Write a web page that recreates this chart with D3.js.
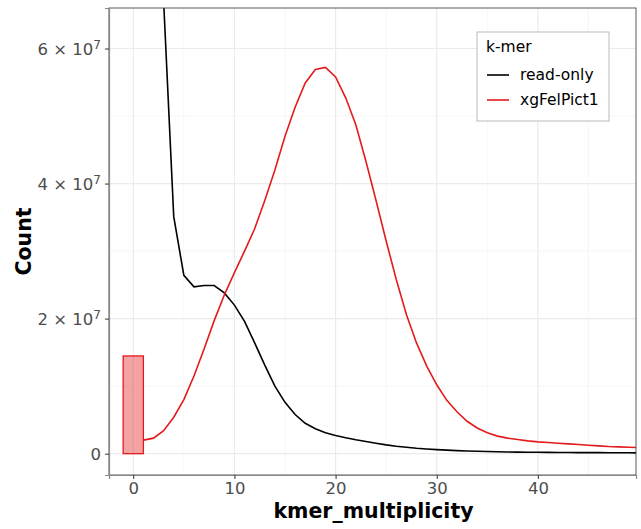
<!DOCTYPE html>
<html>
<head>
<meta charset="utf-8">
<script src="https://cdn.jsdelivr.net/npm/d3@7"></script>
<style>
  body { margin: 0; background: #fff; font-family: "DejaVu Sans", sans-serif; }
</style>
</head>
<body>
<div class="wrapper"></div>
<script>
const multiplicity = d3.range(1, 51)

const readOnly = [
  3.2e8, 1.5e8, 6.7e7, 3.51e7, 2.64e7, 2.47e7, 2.49e7, 2.49e7, 2.38e7, 2.2e7,
  1.96e7, 1.64e7, 1.31e7, 1.0e7, 0.76e7, 0.58e7, 0.45e7, 0.37e7, 0.31e7, 0.27e7,
  0.235e7, 0.205e7, 0.18e7, 0.155e7, 0.13e7, 0.11e7, 0.095e7, 0.08e7, 0.07e7, 0.06e7,
  0.052e7, 0.045e7, 0.04e7, 0.035e7, 0.031e7, 0.028e7, 0.025e7, 0.023e7, 0.021e7, 0.02e7,
  0.019e7, 0.018e7, 0.017e7, 0.016e7, 0.015e7, 0.015e7, 0.014e7, 0.013e7, 0.013e7, 0.012e7
]

const assembly = [
  0.2e7, 0.23e7, 0.34e7, 0.54e7, 0.8e7, 1.15e7, 1.55e7, 1.97e7, 2.35e7, 2.68e7,
  3.0e7, 3.33e7, 3.75e7, 4.2e7, 4.7e7, 5.13e7, 5.49e7, 5.69e7, 5.72e7, 5.58e7,
  5.27e7, 4.87e7, 4.33e7, 3.75e7, 3.15e7, 2.58e7, 2.06e7, 1.64e7, 1.3e7, 1.02e7,
  0.79e7, 0.62e7, 0.48e7, 0.38e7, 0.31e7, 0.26e7, 0.23e7, 0.21e7, 0.19e7, 0.175e7,
  0.165e7, 0.155e7, 0.145e7, 0.135e7, 0.125e7, 0.115e7, 0.105e7, 0.1e7, 0.095e7, 0.09e7
]

// k-mers found only in the assembly (multiplicity 0)
const zeroBar = { x0: -1, x1: 1, value: 1.447e7 }

const series = [
  { name: 'read-only', color: '#000000', values: readOnly },
  { name: 'xgFelPict1', color: '#e41a1c', values: assembly },
]

const xTicks = [0, 10, 20, 30, 40]
const xMinor = [5, 15, 25, 35, 45]
const yTicks = [0, 2e7, 4e7, 6e7]
const yMinor = [1e7, 3e7, 5e7]

const width = 641, height = 529
const margin = { top: 8, right: 5, bottom: 54, left: 109 }
const pw = width - margin.left - margin.right
const ph = height - margin.top - margin.bottom

const x = d3.scaleLinear().domain([-2.4, 49.7]).range([0, pw])
const y = d3.scaleLinear().domain([-0.316e7, 6.6e7]).range([ph, 0])

const svg = d3.select('.wrapper')
  .append('svg')
  .attr('width', width)
  .attr('height', height)

const g = svg.append('g')
  .attr('transform', `translate(${margin.left}, ${margin.top})`)

g.append('defs').append('clipPath')
  .attr('id', 'panel')
  .append('rect')
  .attr('width', pw)
  .attr('height', ph)

// grid
g.selectAll('.xminor').data(xMinor).enter().append('line')
  .attr('x1', d => x(d)).attr('x2', d => x(d))
  .attr('y1', 0).attr('y2', ph)
  .attr('stroke', '#f2f2f2').attr('stroke-width', 0.6)
g.selectAll('.yminor').data(yMinor).enter().append('line')
  .attr('y1', d => y(d)).attr('y2', d => y(d))
  .attr('x1', 0).attr('x2', pw)
  .attr('stroke', '#f2f2f2').attr('stroke-width', 0.6)
g.selectAll('.xmajor').data(xTicks).enter().append('line')
  .attr('x1', d => x(d)).attr('x2', d => x(d))
  .attr('y1', 0).attr('y2', ph)
  .attr('stroke', '#ebebeb').attr('stroke-width', 1.2)
g.selectAll('.ymajor').data(yTicks).enter().append('line')
  .attr('y1', d => y(d)).attr('y2', d => y(d))
  .attr('x1', 0).attr('x2', pw)
  .attr('stroke', '#ebebeb').attr('stroke-width', 1.2)

const plot = g.append('g').attr('clip-path', 'url(#panel)')

plot.append('rect')
  .attr('x', x(zeroBar.x0))
  .attr('width', x(zeroBar.x1) - x(zeroBar.x0))
  .attr('y', y(zeroBar.value))
  .attr('height', y(0) - y(zeroBar.value))
  .attr('fill', 'rgba(228,26,28,0.4)')
  .attr('stroke', '#e41a1c')
  .attr('stroke-width', 1.3)

const line = d3.line()
  .x((d, i) => x(multiplicity[i]))
  .y(d => y(d))

plot.selectAll('.series')
  .data(series)
  .enter().append('path')
  .attr('d', d => line(d.values))
  .attr('fill', 'none')
  .attr('stroke', d => d.color)
  .attr('stroke-width', 1.6)

// panel border
g.append('rect')
  .attr('width', pw).attr('height', ph)
  .attr('fill', 'none')
  .attr('stroke', '#333333')
  .attr('stroke-width', 0.8)

// axes
const xAxis = g.append('g')
  .attr('transform', `translate(0, ${ph})`)
  .call(d3.axisBottom(x).tickValues(xTicks).tickSize(4).tickPadding(3))
xAxis.select('.domain').attr('stroke', '#888888').attr('stroke-width', 1.2)
xAxis.selectAll('.tick line').attr('stroke', '#333333')
xAxis.selectAll('.tick text')
  .attr('fill', '#4d4d4d')
  .attr('font-size', 16.5)
  .attr('font-family', 'DejaVu Sans')

const yAxis = g.append('g')
  .call(d3.axisLeft(y).tickValues(yTicks).tickSize(4).tickPadding(4).tickFormat(''))
yAxis.select('.domain').attr('stroke', '#888888').attr('stroke-width', 1.2)
yAxis.selectAll('.tick line').attr('stroke', '#333333')

yAxis.selectAll('.tick').each(function (d) {
  const t = d3.select(this).append('text')
    .attr('x', -8)
    .attr('dy', '0.35em')
    .attr('text-anchor', 'end')
    .attr('fill', '#4d4d4d')
    .attr('font-size', 16.5)
    .attr('font-family', 'DejaVu Sans')
  if (d === 0) {
    t.text('0')
  } else {
    const m = d / 1e7
    t.append('tspan').text(`${m} \u00d7 10`)
    t.append('tspan').attr('dy', '-0.45em').attr('font-size', 12).text('7')
  }
})

// axis titles
svg.append('text')
  .attr('x', margin.left + pw / 2 + 1)
  .attr('y', 518)
  .attr('text-anchor', 'middle')
  .attr('font-size', 20.5)
  .attr('font-weight', 'bold')
  .attr('font-family', 'DejaVu Sans')
  .text('kmer_multiplicity')

svg.append('text')
  .attr('transform', `translate(31, ${margin.top + ph / 2}) rotate(-90)`)
  .attr('text-anchor', 'middle')
  .attr('font-size', 20.5)
  .attr('font-weight', 'bold')
  .attr('font-family', 'DejaVu Sans')
  .text('Count')

// legend
const legend = svg.append('g').attr('transform', 'translate(477, 32)')
legend.append('rect')
  .attr('width', 132).attr('height', 89)
  .attr('fill', '#ffffff')
  .attr('stroke', '#aaaaaa')
  .attr('stroke-width', 0.8)
legend.append('text')
  .attr('x', 9).attr('y', 20)
  .attr('font-size', 15.5)
  .attr('font-family', 'DejaVu Sans')
  .text('k-mer')
const items = legend.selectAll('.item')
  .data(series)
  .enter().append('g')
  .attr('transform', (d, i) => `translate(0, ${43 + i * 25})`)
items.append('line')
  .attr('x1', 10).attr('x2', 32)
  .attr('stroke', d => d.color)
  .attr('stroke-width', 1.6)
items.append('text')
  .attr('x', 43).attr('dy', '0.35em')
  .attr('font-size', 15.5)
  .attr('font-family', 'DejaVu Sans')
  .text(d => d.name)
</script>
</body>
</html>
